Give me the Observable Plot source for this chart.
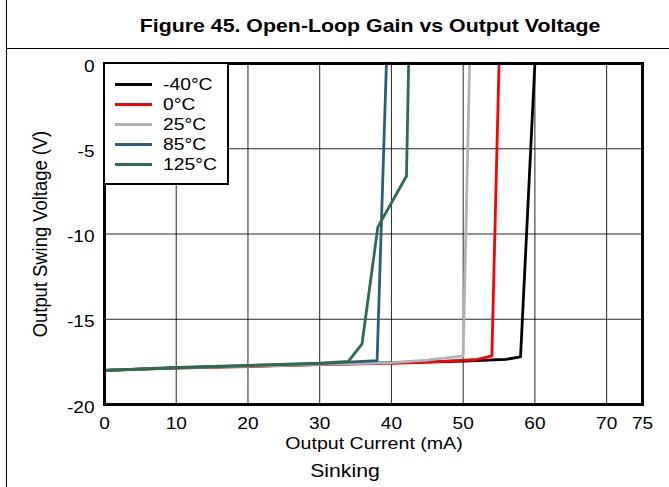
<!DOCTYPE html>
<html>
<head>
<meta charset="utf-8">
<script src="https://cdn.jsdelivr.net/npm/d3@7"></script>
<script src="https://cdn.jsdelivr.net/npm/@observablehq/plot@0.6"></script>
<style>
  html, body { margin: 0; padding: 0; background: #fff; }
  #page { position: relative; width: 669px; height: 487px; overflow: hidden; background: #fff;
          font-family: "Liberation Sans", Arial, Helvetica, sans-serif; color: #000; }
  #leftRule { position: absolute; left: 6px; top: 0; width: 1px; height: 487px; background: #000; }
  #title { position: absolute; left: 6px; top: 0; width: 663px; height: 48px; border-bottom: 1px solid #000; }
  #title span { position: absolute; left: 364px; top: 15px; white-space: nowrap; font-weight: bold; font-size: 18.4px;
                transform: translateX(-50%) scaleX(1.16); transform-origin: center; }
  #chart { position: absolute; left: 0; top: 49px; }
  .stretch { display: inline-block; white-space: nowrap; transform-origin: left center; transform: scaleX(1.17); }
  #xTitle { position: absolute; left: 374px; top: 434px; font-size: 16.6px; white-space: nowrap;
            transform: translateX(-50%) scaleX(1.18); }
  #sinking { position: absolute; left: 345px; top: 461px; font-size: 18px; white-space: nowrap;
             transform: translateX(-50%) scaleX(1.18); }
  #yTitle { position: absolute; left: 40px; top: 234px; font-size: 18.4px; white-space: nowrap;
            transform: translate(-50%, -50%) rotate(-90deg) scaleY(1.12); }
  #legend { position: absolute; left: 103px; top: 62px; width: 126px; height: 123px; box-sizing: border-box;
            border: 2px solid #000; background: #fff; }
  .lrow { position: absolute; left: 0; height: 20px; width: 120px; }
  .lswatch { position: absolute; left: 10px; top: 9px; width: 37px; height: 3px; }
  .ltext { position: absolute; left: 58px; top: 0px; font-size: 16.5px; line-height: 20px; }
</style>
</head>
<body>
<div id="page">
  <div id="title"><span>Figure 45. Open-Loop Gain vs Output Voltage</span></div>
  <div id="leftRule"></div>
  <div id="chart"></div>
  <div id="yTitle">Output Swing Voltage (V)</div>
  <div id="xTitle">Output Current (mA)</div>
  <div id="sinking">Sinking</div>
  <div id="legend"></div>
</div>
<script>
// ---- data ----
const tempLabels = ["-40°C", "0°C", "25°C", "85°C", "125°C"];
const seriesColors = ["#000000", "#ff0000", "#b3b3b3", "#2b5d7c", "#2d6c4d"];

const currentM40 = [0, 10, 20, 30, 40, 50, 56, 58, 60];
const voltM40    = [-18, -17.85, -17.75, -17.65, -17.55, -17.45, -17.35, -17.2, 0];

const current0 = [0, 10, 20, 30, 40, 46, 52, 54, 55];
const volt0    = [-18, -17.87, -17.77, -17.66, -17.58, -17.5, -17.35, -17.15, 0];

const current25 = [0, 10, 20, 30, 40, 45, 48, 50, 50.9];
const volt25    = [-18, -17.85, -17.75, -17.65, -17.55, -17.4, -17.25, -17.15, 0];

const current85 = [0, 10, 20, 30, 38, 39.3];
const volt85    = [-18, -17.85, -17.72, -17.6, -17.43, 0];

const current125 = [0, 10, 20, 30, 34, 35.9, 38.1, 42.1, 42.4];
const volt125    = [-18, -17.83, -17.7, -17.57, -17.47, -16.45, -9.6, -6.6, 0];

const xTicks = [0, 10, 20, 30, 40, 50, 60, 70, 75];
const yTicks = [0, -5, -10, -15, -20];
const xGrid = [10, 20, 30, 40, 50, 60, 70];
const yGrid = [-5, -10, -15];

const currents = [currentM40, current0, current25, current85, current125];
const volts = [voltM40, volt0, volt25, volt85, volt125];

const rows = tempLabels.flatMap((t, i) =>
  currents[i].map((c, j) => ({ temp: t, current: c, volt: volts[i][j] })));

const chart = Plot.plot({
  width: 669,
  height: 438,
  marginTop: 14,
  marginBottom: 83,
  marginLeft: 104,
  marginRight: 27,
  style: { fontFamily: "'Liberation Sans', Arial, sans-serif", fontSize: "16.3px", color: "#000", background: "transparent" },
  x: { domain: [0, 75] },
  y: { domain: [-20, 0] },
  color: { domain: tempLabels, range: seriesColors },
  marks: [
    Plot.ruleX(xGrid, { stroke: "#000", strokeWidth: 1, strokeOpacity: 0.85 }),
    Plot.ruleY(yGrid, { stroke: "#000", strokeWidth: 1, strokeOpacity: 0.85 }),
    Plot.line(rows, { x: "current", y: "volt", z: "temp", stroke: "temp", strokeWidth: 2.8, strokeLinejoin: "round" }),
    Plot.frame({ stroke: "#000", strokeWidth: 3 }),
    Plot.axisX(xTicks, { tickSize: 0, tickPadding: 13, label: null, tickFormat: d => String(d) }),
    Plot.axisY(yTicks, { tickSize: 0, tickPadding: 10, dy: 3, label: null, tickFormat: d => String(d) })
  ]
});
document.getElementById("chart").appendChild(chart);

// stretch svg text horizontally to match the reference's wide lettering
chart.querySelectorAll("text").forEach(t => {
  const len = t.getComputedTextLength();
  if (len > 0) {
    t.setAttribute("textLength", (len * 1.17).toFixed(2));
    t.setAttribute("lengthAdjust", "spacingAndGlyphs");
  }
});

// legend
const legend = document.getElementById("legend");
tempLabels.forEach((t, i) => {
  const row = document.createElement("div");
  row.className = "lrow";
  row.style.top = (10 + i * 20) + "px";
  const sw = document.createElement("div");
  sw.className = "lswatch";
  sw.style.background = seriesColors[i];
  const tx = document.createElement("div");
  tx.className = "ltext";
  tx.innerHTML = '<span class="stretch"></span>';
  tx.firstChild.textContent = t;
  row.appendChild(sw);
  row.appendChild(tx);
  legend.appendChild(row);
});
</script>
</body>
</html>
